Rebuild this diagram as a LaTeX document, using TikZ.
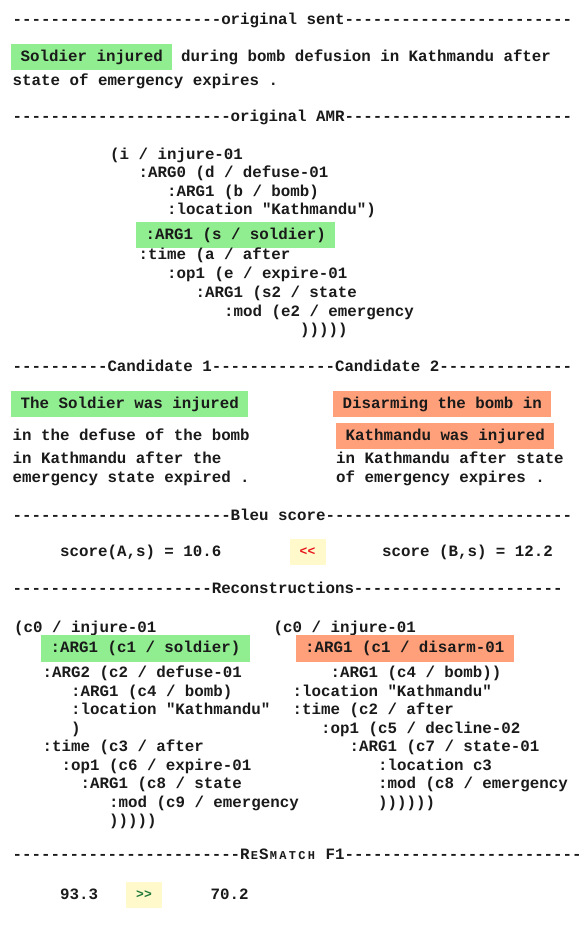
\documentclass[tikz,border=0pt]{standalone}
\usepackage{fontspec}
\setmonofont{Liberation Mono}
\definecolor{hlgreen}{HTML}{90EE90}
\definecolor{hlsalmon}{HTML}{FFA07A}
\definecolor{hlyellow}{HTML}{FFF9CC}
\definecolor{txtred}{HTML}{E8141B}
\definecolor{txtgreen}{HTML}{1F7A3A}
\definecolor{ink}{HTML}{1A1A1A}
\newcommand{\mfont}{\ttfamily\bfseries\fontsize{15.8}{18}\selectfont}
\newcommand{\smcap}[1]{\makebox[9.5pt][c]{\fontsize{12}{12}\selectfont #1}}
\begin{document}
\begin{tikzpicture}[x=1pt,y=-1pt,
  txt/.style={anchor=base west, inner sep=0pt, font=\mfont, text=ink},
  hl/.style={anchor=base west, inner xsep=9.5pt, inner ysep=0pt, text height=17.5pt, text depth=9pt, font=\mfont, text=ink},
  cmp/.style={fill=hlyellow, minimum width=36pt, minimum height=26pt, inner sep=0pt, font=\ttfamily\bfseries\fontsize{13}{13}\selectfont},
]
\fill[white] (0,0) rectangle (580,926);
\useasboundingbox (0,0) rectangle (580,926);
\begin{scope}[yshift=-1.5pt]
% original sentence
\node[txt] (h1) at (12.5,23) {----------------------original sent------------------------};
\node[hl, fill=hlgreen] (o1) at (11,59.5) {Soldier injured};
\node[txt] (o2) at (181,59.5) {during bomb defusion in Kathmandu after};
\node[txt] (o3) at (12.5,83.5) {state of emergency expires .};

% original AMR
\node[txt] (h2) at (12.5,119.5) {-----------------------original AMR------------------------};
\node[txt] (a1) at (110,157.5) {(i / injure-01};
\node[txt] (a2) at (138.5,176) {:ARG0 (d / defuse-01};
\node[txt] (a3) at (167,194.5) {:ARG1 (b / bomb)};
\node[txt] (a4) at (167,212.5) {:location "Kathmandu")};
\node[hl, fill=hlgreen] (a5) at (136,237.5) {:ARG1 (s / soldier)};
\node[txt] (a6) at (138.5,257.5) {:time (a / after};
\node[txt] (a7) at (167,276.5) {:op1 (e / expire-01};
\node[txt] (a8) at (195.5,295.5) {:ARG1 (s2 / state};
\node[txt] (a9) at (224,314.5) {:mod (e2 / emergency};
\node[txt] (a10) at (300,332.5) {)))))};

% candidates
\node[txt] (h3) at (12.5,369.5) {----------Candidate 1-------------Candidate 2--------------};
\node[hl, fill=hlgreen] (c1a) at (11,406.5) {The Soldier was injured};
\node[hl, fill=hlsalmon] (c2a) at (333,406.5) {Disarming the bomb in};
\node[txt] (c1b) at (12.5,438.5) {in the defuse of the bomb};
\node[hl, fill=hlsalmon] (c2b) at (336,438.5) {Kathmandu was injured};
\node[txt] (c1c) at (12.5,461.5) {in Kathmandu after the};
\node[txt] (c2c) at (336,461.5) {in Kathmandu after state};
\node[txt] (c1d) at (12.5,480.5) {emergency state expired .};
\node[txt] (c2d) at (336,480.5) {of emergency expires .};

% bleu
\node[txt] (h4) at (12.5,518.5) {-----------------------Bleu score--------------------------};
\node[txt] (b1) at (60,554.5) {score(A,s) = 10.6};
\node[cmp, text=txtred] (b2) at (307.5,550) {<<};
\node[txt] (b3) at (382,554.5) {score (B,s) = 12.2};

% reconstructions
\node[txt] (h5) at (12.5,591.5) {---------------------Reconstructions----------------------};
\node[txt] (l1) at (14,630.5) {(c0 / injure-01};
\node[hl, fill=hlgreen] (l2) at (41,651) {:ARG1 (c1 / soldier)};
\node[txt] (l3) at (42.5,675.5) {:ARG2 (c2 / defuse-01};
\node[txt] (l4) at (71,694.5) {:ARG1 (c4 / bomb)};
\node[txt] (l5) at (71,712.5) {:location "Kathmandu"};
\node[txt] (l6) at (71,731.5) {)};
\node[txt] (l7) at (42.5,749.5) {:time (c3 / after};
\node[txt] (l8) at (61.5,768.5) {:op1 (c6 / expire-01};
\node[txt] (l9) at (80.5,786.5) {:ARG1 (c8 / state};
\node[txt] (l10) at (109,805.5) {:mod (c9 / emergency};
\node[txt] (l11) at (109,823.5) {)))))};

\node[txt] (r1) at (273.5,630.5) {(c0 / injure-01};
\node[hl, fill=hlsalmon] (r2) at (295.5,651) {:ARG1 (c1 / disarm-01};
\node[txt] (r3) at (330.5,675.5) {:ARG1 (c4 / bomb))};
\node[txt] (r4) at (292.5,694.5) {:location "Kathmandu"};
\node[txt] (r5) at (292.5,712.5) {:time (c2 / after};
\node[txt] (r6) at (321,731.5) {:op1 (c5 / decline-02};
\node[txt] (r7) at (349.5,749.5) {:ARG1 (c7 / state-01};
\node[txt] (r8) at (378,768.5) {:location c3};
\node[txt] (r9) at (378,786.5) {:mod (c8 / emergency};
\node[txt] (r10) at (378,805.5) {))))))};

% resmatch
\node[txt] (h6) at (12.5,858) {------------------------R\smcap{E}S\smcap{M}\smcap{A}\smcap{T}\smcap{C}\smcap{H} F1-------------------------};
\node[txt] (m1) at (60,897.5) {93.3};
\node[cmp, text=txtgreen] (m2) at (144,893) {>>};
\node[txt] (m3) at (210.5,897.5) {70.2};
\end{scope}
\end{tikzpicture}
\end{document}
